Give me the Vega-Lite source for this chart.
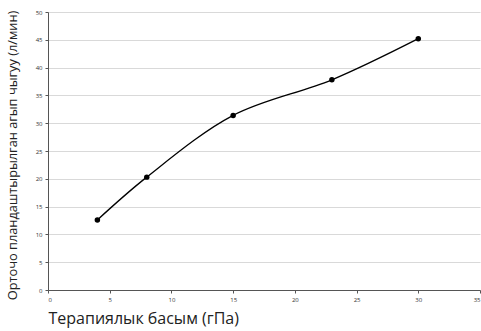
{
  "$schema": "https://vega.github.io/schema/vega-lite/v6.json",
  "width": 432,
  "height": 278,
  "autosize": {"type": "none"},
  "padding": {"left": 48, "top": 12, "right": 1, "bottom": 41},
  "background": "white",
  "config": {
    "view": {"stroke": null},
    "font": "Open Sans"
  },
  "data": {
    "values": [
      {"p": 4, "v": 12.6},
      {"p": 8, "v": 20.3},
      {"p": 15, "v": 31.4},
      {"p": 23, "v": 37.8},
      {"p": 30, "v": 45.2}
    ]
  },
  "encoding": {
    "x": {
      "field": "p", "type": "quantitative",
      "scale": {"domain": [0, 35], "nice": false},
      "axis": {
        "values": [0, 5, 10, 15, 20, 25, 30, 35],
        "grid": false,
        "domainColor": "#555555",
        "tickColor": "#555555",
        "tickSize": 3,
        "labelFontSize": 6,
        "labelColor": "#333333",
        "labelPadding": 3,
        "title": "Терапиялык басым (гПа)",
        "titleFontSize": 16,
        "titleFontWeight": "normal",
        "titleColor": "#222222",
        "titleAnchor": "start",
        "titlePadding": 8
      }
    },
    "y": {
      "field": "v", "type": "quantitative",
      "scale": {"domain": [0, 50], "nice": false},
      "axis": {
        "values": [0, 5, 10, 15, 20, 25, 30, 35, 40, 45, 50],
        "grid": true,
        "gridColor": "#d9d9d9",
        "gridWidth": 1,
        "domainColor": "#555555",
        "tickColor": "#555555",
        "tickSize": 3,
        "labelFontSize": 6,
        "labelColor": "#333333",
        "labelPadding": 3,
        "title": "Орточо пландаштырылган агып чыгуу (л/мин)",
        "titleFontSize": 12.8,
        "titleFontWeight": "normal",
        "titleColor": "#222222",
        "titlePadding": 16,
        "titleY": 143
      }
    }
  },
  "layer": [
    {
      "mark": {"type": "line", "interpolate": "catmull-rom", "color": "black", "strokeWidth": 1.3}
    },
    {
      "mark": {"type": "point", "filled": true, "color": "black", "size": 30, "opacity": 1}
    }
  ]
}
